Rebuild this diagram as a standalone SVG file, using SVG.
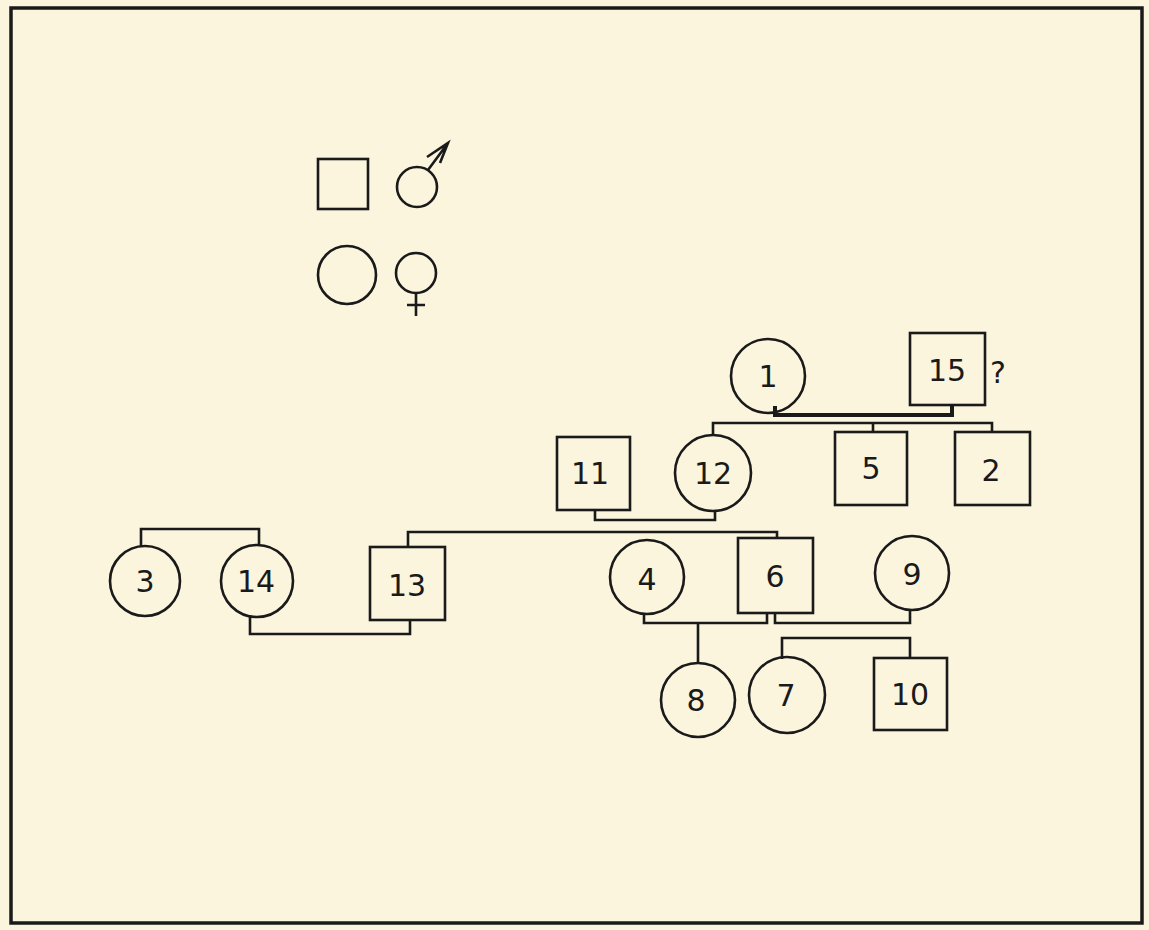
<svg xmlns="http://www.w3.org/2000/svg" width="1149" height="930" viewBox="0 0 1149 930">
<style>
.n{fill:none;stroke:#1a1a1a;stroke-width:2.6}
.t{font-family:"DejaVu Sans",sans-serif;font-size:30px;fill:#1a1a1a;text-anchor:middle;dominant-baseline:central}
.c{fill:none;stroke:#1a1a1a;stroke-width:2.6;stroke-linejoin:miter}
.m{fill:none;stroke:#1a1a1a;stroke-width:4;stroke-linejoin:miter}
</style>
<rect x="0" y="0" width="1149" height="930" fill="#fbf5de"/>
<rect x="11" y="8" width="1131" height="915" fill="none" stroke="#1a1a1a" stroke-width="3.5"/>
<g id="legend">
<rect class="n" x="318" y="159" width="50" height="50"/>
<circle class="n" cx="417" cy="187" r="20"/>
<path class="n" d="M428 170 L448 143 M427 157 L448 143 L440 163"/>
<circle class="n" cx="347" cy="275" r="29"/>
<circle class="n" cx="416" cy="273" r="20"/>
<path class="n" d="M416 293 L416 316 M407 305 L425 305"/>
</g>
<g id="connectors">
<path class="m" d="M775 406 V415 H952 V405"/>
<path class="c" d="M713 435 V423 H992 V432 M873 423 V432"/>
<path class="c" d="M595 510 V520 H715 V512"/>
<path class="c" d="M408 547 V532 H777 V538"/>
<path class="c" d="M141 547 V529 H259 V545"/>
<path class="c" d="M250 615 V634 H410 V620"/>
<path class="c" d="M644 614 V623 H767 V613"/>
<path class="c" d="M775 613 V623 H910 V610"/>
<path class="c" d="M698 623 V663"/>
<path class="c" d="M782 659 V638 H910 V658"/>
</g>
<g id="node1"><circle class="n" cx="768" cy="376" r="37"/><text class="t" x="768" y="376">1</text></g>
<g id="node15"><rect class="n" x="910" y="333" width="75" height="72"/><text class="t" x="947" y="370">15</text><text class="t" x="998" y="372">?</text></g>
<g id="node5"><rect class="n" x="835" y="432" width="72" height="73"/><text class="t" x="871" y="468">5</text></g>
<g id="node2"><rect class="n" x="955" y="432" width="75" height="73"/><text class="t" x="991" y="470">2</text></g>
<g id="node11"><rect class="n" x="557" y="437" width="73" height="73"/><text class="t" x="590" y="473">11</text></g>
<g id="node12"><circle class="n" cx="713" cy="473" r="38"/><text class="t" x="713" y="473">12</text></g>
<g id="node3"><circle class="n" cx="145" cy="581" r="35"/><text class="t" x="145" y="581">3</text></g>
<g id="node14"><circle class="n" cx="257" cy="581" r="36"/><text class="t" x="256" y="581">14</text></g>
<g id="node13"><rect class="n" x="370" y="547" width="75" height="73"/><text class="t" x="407" y="585">13</text></g>
<g id="node4"><circle class="n" cx="647" cy="577" r="37"/><text class="t" x="647" y="579">4</text></g>
<g id="node6"><rect class="n" x="738" y="538" width="75" height="75"/><text class="t" x="775" y="576">6</text></g>
<g id="node9"><circle class="n" cx="912" cy="573" r="37"/><text class="t" x="912" y="574">9</text></g>
<g id="node8"><circle class="n" cx="698" cy="700" r="37"/><text class="t" x="696" y="700">8</text></g>
<g id="node7"><circle class="n" cx="787" cy="695" r="38"/><text class="t" x="786" y="695">7</text></g>
<g id="node10"><rect class="n" x="874" y="658" width="73" height="72"/><text class="t" x="910" y="694">10</text></g>
</svg>
